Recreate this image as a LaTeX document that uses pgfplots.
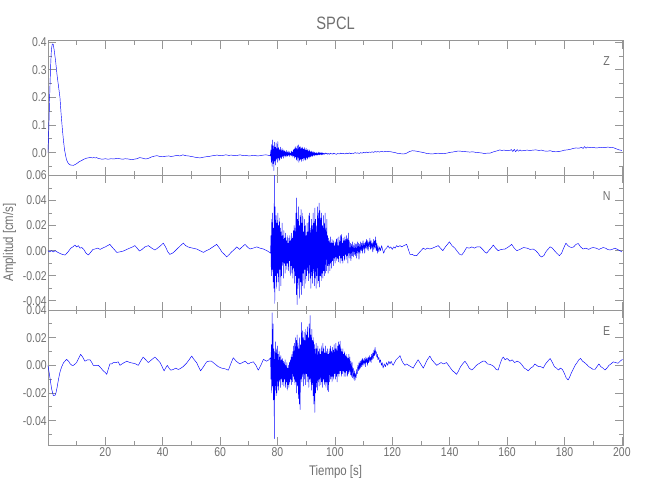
\documentclass[border=0pt]{standalone}
\usepackage{fontspec}
\setmainfont{Liberation Sans}[FakeStretch=0.82]
\usepackage{pgfplots}
\pgfplotsset{compat=1.18}
\definecolor{axgrey}{RGB}{150,150,150}
\definecolor{txtgrey}{RGB}{112,112,112}
\definecolor{trace}{RGB}{0,0,255}
\pgfplotsset{
 seis/.style={
  scale only axis, anchor=north west, width=575.4bp,
  xmin=0, xmax=200.5,
  scaled x ticks=false, scaled y ticks=false,
  axis line style={axgrey, line width=0.7bp},
  tick style={axgrey, line width=0.7bp},
  major tick length=8bp, minor tick length=4bp,
  tick align=inside,
  xtick={20,40,...,200}, minor xtick={10,30,...,190},
  tick label style={font=\fontsize{12.8}{13}\selectfont, text=txtgrey},
  yticklabel style={inner xsep=1bp, /pgf/number format/fixed, /pgf/number format/fixed zerofill, /pgf/number format/precision=2},
  xticklabel style={inner ysep=2.5bp, /pgf/number format/fixed, /pgf/number format/precision=0},
  /pgf/number format/assume math mode=true,
 },
 tr/.style={trace, line width=0.45bp, line join=round},
}
\tikzset{lab/.style={text=txtgrey, font=\fontsize{13}{13}\selectfont}}
\begin{document}
\begin{tikzpicture}
\path[use as bounding box] (0bp,0bp) rectangle (650bp,-500bp);
% ---------------- Z ----------------
\begin{axis}[seis, at={(47.9bp,-40.5bp)}, height=134.5bp,
  ymin=-0.081, ymax=0.406,
  ytick={0,0.1,0.2,0.3,0.4}, minor ytick={-0.05,0.05,0.15,0.25,0.35},
  yticklabel style={/pgf/number format/precision=1},
  xticklabels={}]
\addplot[tr] coordinates {
(0,0) (0.3,0.08) (0.6,0.2) (0.9,0.3) (1.2,0.37) (1.5,0.392) (1.7,0.394) (1.9,0.39) (2.2,0.37) (2.7,0.33) (3.2,0.28) (3.7,0.24) (4.2,0.2) (4.6,0.14) (5,0.09) (5.4,0.046) (5.8,0.01) (6.2,-0.012) (6.5,-0.026) (7,-0.037) (7.5,-0.043) (8,-0.045) (8.9,-0.046) (9.5,-0.043) (10,-0.04) (10.5,-0.036) (11,-0.032) (11.5,-0.03) (12,-0.027) (12.5,-0.024) (13,-0.022) (13.5,-0.02) (14,-0.019) (14.5,-0.018) (15,-0.018) (15.5,-0.019) (16,-0.018) (16.5,-0.019) (17,-0.018) (17.5,-0.021) (18,-0.022) (18.5,-0.023) (19,-0.024) (19.5,-0.023) (20,-0.022) (21,-0.024) (22,-0.022) (23,-0.023) (24,-0.021) (25,-0.022) (26,-0.024) (27,-0.022) (28,-0.023) (29,-0.025) (30,-0.024) (31,-0.022) (32,-0.018) (33,-0.02) (34,-0.023) (35,-0.021) (36,-0.016) (37,-0.013) (38,-0.011) (39,-0.014) (40,-0.015) (41,-0.013) (42,-0.012) (43,-0.014) (44,-0.012) (45,-0.01) (46,-0.012) (47,-0.008) (48,-0.011) (49,-0.012) (50,-0.014) (51,-0.016) (52,-0.018) (53,-0.019) (54,-0.017) (55,-0.015) (56,-0.014) (57,-0.012) (58,-0.01) (59,-0.009) (60,-0.011) (61,-0.01) (62,-0.008) (63,-0.01) (64,-0.009) (65,-0.011) (66,-0.01) (67,-0.008) (68,-0.011) (69,-0.01) (70,-0.012) (71,-0.011) (72,-0.01) (73,-0.012) (74,-0.011) (75,-0.009) (76,-0.008) (77,-0.01) (77.5,-0.012)
(77.7,0.01) (77.85,-0.035) (78,0.03) (78.15,-0.05) (78.3,0.046) (78.45,-0.04) (78.6,0.025) (78.75,-0.065) (78.9,0.038) (79.05,-0.03) (79.2,0.02) (79.35,-0.045) (79.5,0.035) (79.65,-0.025) (79.8,0.015) (79.95,-0.035) (80.1,0.04) (80.25,-0.02) (80.4,0.018) (80.55,-0.03) (80.7,0.012) (80.85,-0.025) (81,0.02) (81.15,-0.018) (81.3,0.01) (81.45,-0.022) (81.6,0.015) (81.75,-0.015) (81.9,0.008) (82.05,-0.02) (82.2,0.01) (82.35,-0.012) (82.5,0.006) (82.65,-0.016) (82.8,0.004) (82.95,-0.012) (83.1,0.008) (83.25,-0.014) (83.4,0.002) (83.55,-0.012) (83.7,0.006) (83.85,-0.01) (84,0) (84.15,-0.014) (84.3,0.004) (84.45,-0.008) (84.6,-0.002) (84.75,-0.012) (84.9,0.006) (85.05,-0.01) (85.2,0.002) (85.35,-0.016) (85.5,0.01) (85.65,-0.012) (85.8,0.012) (85.95,-0.02) (86.1,0.018) (86.25,-0.015) (86.4,0.022) (86.55,-0.025) (86.7,0.015) (86.85,-0.03) (87,0.025) (87.15,-0.02) (87.3,0.028) (87.45,-0.035) (87.6,0.02) (87.75,-0.028) (87.9,0.022) (88.05,-0.025) (88.2,0.018) (88.35,-0.032) (88.5,0.015) (88.65,-0.022) (88.8,0.02) (88.95,-0.03) (89.1,0.012) (89.25,-0.02) (89.4,0.018) (89.55,-0.025) (89.7,0.01) (89.85,-0.028) (90,0.016) (90.15,-0.018) (90.3,0.008) (90.45,-0.024) (90.6,0.012) (90.75,-0.016) (90.9,0.006) (91.05,-0.02) (91.2,0.01) (91.35,-0.014) (91.5,0.004) (91.65,-0.016) (91.8,0.006) (91.95,-0.012) (92.1,0.002) (92.25,-0.014) (92.4,0.004) (92.55,-0.01) (92.7,0) (92.85,-0.012) (93,0.002) (93.15,-0.008) (93.3,-0.002) (93.45,-0.01) (93.6,0) (93.75,-0.008) (93.9,-0.003) (94.05,-0.009) (94.2,0.002) (94.35,-0.007) (94.5,-0.001) (94.65,-0.008) (94.8,0.001) (94.95,-0.006) (95.1,-0.002) (95.25,-0.008) (95.4,0) (95.55,-0.006) (95.7,-0.001) (95.85,-0.007) (96,-0.002) (96.3,-0.006) (96.6,-0.001) (96.9,-0.005) (97.2,-0.002) (97.5,-0.006) (97.8,-0.003) (98.1,-0.006) (98.4,-0.002) (98.7,-0.005) (99,-0.003) (99.3,-0.006) (99.6,-0.002) (100,-0.004)
(100.5,-0.006) (101,-0.003) (101.5,-0.005) (102,-0.002) (102.5,-0.004) (103,-0.003) (103.5,-0.005) (104,-0.002) (104.5,-0.004) (105,-0.001) (105.5,-0.004) (106,-0.002) (106.5,-0.003) (107,0) (107.5,-0.002) (108,-0.001) (108.5,-0.003) (109,0) (109.5,-0.002) (110,0.001) (110.5,-0.001) (111,0.002) (111.5,0) (112,0.002) (112.5,0.001) (113,0.003) (113.5,0.001) (114,0.004) (114.5,0.002) (115,0.004) (115.5,0.002) (116,0.004) (117,0.003) (118,0.005) (119,0.004) (120,0.002) (121,0) (122,-0.003) (123,-0.004) (124,-0.005) (125,-0.002) (126,0.004) (127,0.007) (128,0.006) (129,0.004) (130,0.002) (131,0) (132,-0.003) (133,-0.004) (134,-0.005) (135,-0.003) (136,-0.002) (137,-0.004) (138,-0.003) (139,-0.002) (140,0.001) (141,0.002) (142,0.004) (143,0.006) (144,0.005) (145,0.004) (146,0.003) (147,0.002) (148,0.003) (149,0.001) (150,0) (151,-0.001) (152,-0.003) (153,-0.002) (154,-0.002) (155,0.002) (156,0.005) (157,0.008) (157.5,0.01) (158,0.008) (159,0.009) (160,0.007) (161,0.008) (161.5,0.011) (162,0.004) (162.5,0.012) (163,0.003) (163.5,0.011) (164,0.005) (164.5,0.01) (165,0.006) (166,0.008) (167,0.009) (168,0.008) (169,0.009) (170,0.01) (171,0.008) (172,0.009) (173,0.006) (174,0.005) (175,0.007) (176,0.004) (177,0.003) (178,0.004) (179,0.006) (180,0.009) (181,0.01) (182,0.012) (183,0.015) (184,0.017) (185,0.016) (186,0.019) (186.5,0.015) (187,0.022) (187.5,0.016) (188,0.02) (189,0.018) (190,0.019) (191,0.017) (192,0.018) (193,0.019) (194,0.018) (195,0.02) (196,0.019) (197,0.018) (198,0.014) (199,0.01) (200,0.008)
};
\node[lab] at (axis description cs:0.971,0.848) {Z};
\end{axis}
% ---------------- N ----------------
\begin{axis}[seis, at={(47.9bp,-175bp)}, height=135bp,
  ymin=-0.0473, ymax=0.0603,
  ytick={-0.04,-0.02,0,0.02,0.04,0.06}, minor ytick={-0.03,-0.01,0.01,0.03,0.05},
  xticklabels={},
  ylabel={Amplitud [cm/s]},
  ylabel style={at={(axis description cs:-0.0665,0.5)}, anchor=center, text=txtgrey, font=\fontsize{14}{14}\selectfont}]
\addplot[tr] coordinates {
(0,0) (0.6,-0.001) (1.2,0) (1.9,-0.001) (2.5,0) (3.2,-0.001) (4,-0.002) (5,-0.003) (6,-0.0035) (7,-0.001) (8,0.002) (8.7,0.003) (9.4,0.0045) (10,0.003) (10.6,0.004) (11.2,0.002) (11.8,0.0025) (12.5,0.001) (13.3,-0.002) (14.1,-0.0035) (15,-0.001) (15.7,0.001) (16.4,0.0013) (17.3,0.002) (18.2,0.001) (19,0.002) (20,0.003) (20.8,0.004) (21.6,0.005) (22.3,0.003) (23.1,0.001) (24,-0.0014) (25,-0.001) (26.3,-0.0003) (27.5,0.001) (28.5,0.002) (29.5,0.003) (30.3,0.004) (31.1,0.002) (31.9,-0.0003) (32.8,0.001) (33.8,0.003) (35,0.004) (36.2,0.002) (37.3,0.0005) (38.2,0.002) (39.3,0.004) (40.2,0.006) (41,0.003) (41.8,-0.001) (42.5,-0.003) (43.4,-0.002) (44.3,-0.0003) (45.3,0.002) (46.2,0.004) (47.2,0.006) (48,0.004) (48.8,0.003) (49.5,0.0025) (50.5,0.002) (51.8,0.0013) (53,0) (54.2,-0.0014) (55.2,0) (56.2,0.001) (57.5,0.003) (58.8,0.005) (59.8,0.002) (60.6,-0.001) (61.5,-0.003) (62.3,-0.005) (63.2,-0.003) (64,-0.001) (65,0.001) (65.8,0.003) (66.8,0.001) (67.7,0.003) (68.7,0.005) (69.5,0.003) (70.4,0.0013) (71.5,0.002) (72.8,0.003) (73.9,0.002) (75.1,0.0013) (76.3,0) (77,-0.001) (77.6,-0.002)
(77.7,0.012) (77.85,-0.02) (78,0.025) (78.15,-0.015) (78.3,0.03) (78.45,-0.025) (78.6,0.018) (78.75,-0.03) (78.9,0.06) (79.05,-0.042) (79.2,0.035) (79.35,-0.02) (79.5,0.028) (79.65,-0.03) (79.8,0.022) (79.95,-0.018) (80.1,0.03) (80.25,-0.025) (80.4,0.02) (80.55,-0.032) (80.7,0.026) (80.85,-0.015) (81,0.018) (81.15,-0.028) (81.3,0.015) (81.45,-0.02) (81.6,0.022) (81.75,-0.012) (81.9,0.012) (82.05,-0.022) (82.2,0.016) (82.35,-0.01) (82.5,0.01) (82.65,-0.018) (82.8,0.014) (82.95,-0.012) (83.1,0.008) (83.25,-0.015) (83.4,0.012) (83.55,-0.01) (83.7,0.006) (83.85,-0.016) (84,0.01) (84.15,-0.008) (84.3,0.012) (84.45,-0.02) (84.6,0.008) (84.75,-0.012) (84.9,0.014) (85.05,-0.018) (85.2,0.01) (85.35,-0.022) (85.5,0.016) (85.65,-0.014) (85.8,0.02) (85.95,-0.026) (86.1,0.018) (86.25,-0.02) (86.4,0.03) (86.55,-0.035) (86.7,0.042) (86.85,-0.043) (87,0.025) (87.15,-0.03) (87.3,0.035) (87.45,-0.022) (87.6,0.02) (87.75,-0.038) (87.9,0.028) (88.05,-0.025) (88.2,0.033) (88.35,-0.035) (88.5,0.022) (88.65,-0.028) (88.8,0.03) (88.95,-0.018) (89.1,0.015) (89.25,-0.03) (89.4,0.025) (89.55,-0.015) (89.7,0.02) (89.85,-0.026) (90,0.012) (90.15,-0.02) (90.3,0.022) (90.45,-0.016) (90.6,0.015) (90.75,-0.024) (90.9,0.028) (91.05,-0.018) (91.2,0.03) (91.35,-0.022) (91.5,0.018) (91.65,-0.03) (91.8,0.025) (91.95,-0.02) (92.1,0.02) (92.25,-0.026) (92.4,0.03) (92.55,-0.018) (92.7,0.022) (92.85,-0.028) (93,0.034) (93.15,-0.022) (93.3,0.025) (93.45,-0.03) (93.6,0.02) (93.75,-0.02) (93.9,0.035) (94.05,-0.026) (94.2,0.03) (94.35,-0.024) (94.5,0.038) (94.65,-0.029) (94.8,0.032) (94.95,-0.02) (95.1,0.026) (95.25,-0.024) (95.4,0.03) (95.55,-0.018) (95.7,0.02) (95.85,-0.022) (96,0.028) (96.15,-0.016) (96.3,0.022) (96.45,-0.02) (96.6,0.03) (96.75,-0.018) (96.9,0.018) (97.05,-0.016) (97.2,0.025) (97.35,-0.012) (97.5,0.012) (97.65,-0.018) (97.8,0.01) (97.95,-0.012) (98.1,0.008) (98.25,-0.016) (98.4,0.011) (98.55,-0.01) (98.7,0.006) (98.85,-0.014) (99,0.009) (99.15,-0.008) (99.3,0.006) (99.45,-0.012) (99.6,0.008) (99.75,-0.006) (99.9,0.004) (100.05,-0.01) (100.2,0.007) (100.35,-0.005) (100.5,0.009) (100.65,-0.008) (100.8,0.01) (100.95,-0.006) (101.1,0.004) (101.25,-0.009) (101.4,0.011) (101.55,-0.004) (101.7,0.008) (101.85,-0.01) (102,0.012) (102.15,-0.006) (102.3,0.013) (102.45,-0.008) (102.6,0.006) (102.75,-0.01) (102.9,0.01) (103.05,-0.004) (103.2,0.008) (103.35,-0.008) (103.5,0.011) (103.65,-0.003) (103.8,0.009) (103.95,-0.007) (104.1,0.012) (104.25,-0.004) (104.4,0.01) (104.55,-0.01) (104.7,0.014) (104.85,-0.002) (105,0.008) (105.2,-0.006) (105.4,0.006) (105.6,-0.008) (105.8,0.005) (106,-0.004) (106.2,0.007) (106.4,-0.005) (106.6,0.004) (106.8,-0.003) (107,0.006) (107.2,-0.004) (107.4,0.005) (107.6,-0.006) (107.8,0.007) (108,-0.002) (108.2,0.006) (108.4,-0.007) (108.6,0.005) (108.8,-0.002) (109,0.007) (109.2,0) (109.4,0.006) (109.6,-0.002) (109.8,0.008) (110,0.001) (110.2,0.006) (110.4,-0.002) (110.6,0.007) (110.8,0.002) (111,0.009) (111.2,0.001) (111.4,0.008) (111.6,0) (111.8,0.007) (112,0.003) (112.2,0.01) (112.4,0.001) (112.6,0.008) (112.8,0.002) (113,0.006) (113.2,-0.001) (113.4,0.009) (113.6,0.001) (113.8,0.008) (114,0.002) (114.2,0.011) (114.4,0) (114.6,0.006) (114.8,-0.002) (115,0.004) (115.3,-0.001) (115.6,0.003) (115.9,0) (116.3,0.004) (116.6,0.001) (117,-0.002)
(117.5,0.001) (118,0.002) (118.5,0.004) (119,0.002) (119.5,0.003) (120,0.001) (120.5,0.003) (121,0.002) (121.5,0.004) (122,0.003) (122.7,0.004) (123.3,0.003) (124,0.004) (125,0.005) (125.6,0.001) (126.2,-0.003) (127,-0.003) (127.7,-0.004) (128.5,-0.004) (129.2,-0.002) (130,0) (130.8,0.002) (131.5,0.001) (132.3,0.002) (133.1,0.0013) (134,0.002) (135,0.003) (136,0.004) (136.8,0.002) (137.6,0) (138.5,0.003) (139.2,0.005) (139.9,0.007) (140.8,0.004) (141.8,0.002) (142.8,-0.001) (143.5,-0.003) (144.2,-0.0035) (145,-0.001) (145.9,0.0025) (146.8,0.002) (147.7,0.003) (148.6,0.002) (149.5,0.003) (150.6,0.003) (151.5,0.001) (152.2,-0.001) (152.9,-0.002) (153.6,0) (154.4,0.002) (155.2,0.0045) (156,0.002) (156.9,0) (158,0.001) (159.3,0.0013) (160.5,0.003) (161.6,0.005) (162.5,0.002) (163.4,0) (164.5,0.001) (165.7,0.0025) (167,0.002) (168,0.001) (169.1,0.0013) (170,0) (170.8,-0.002) (171.4,-0.004) (172,-0.005) (172.8,-0.004) (173.5,-0.001) (174.2,0.001) (175,0.003) (175.8,0.002) (176.5,0) (177.3,-0.002) (178.2,-0.004) (179,-0.002) (179.7,0.002) (180.5,0.006) (181.2,0.004) (181.8,0.003) (182.5,0.0025) (183.2,0.003) (184,0.005) (184.8,0.0057) (185.6,0.003) (186.5,0.0013) (187.5,0.002) (188.4,0.001) (189.2,0.002) (190,0.0025) (191,0.002) (192,0.001) (193,0.002) (193.5,0.0025) (194.3,0.002) (195,0.001) (195.8,0.0005) (196.6,0.001) (197.6,0.002) (198.5,0.001) (199.3,0) (200,-0.001)
};
\node[lab] at (axis description cs:0.971,0.845) {N};
\end{axis}
% ---------------- E ----------------
\begin{axis}[seis, at={(47.9bp,-310bp)}, height=135bp,
  ymin=-0.0576, ymax=0.040,
  ytick={-0.04,-0.02,0,0.02,0.04}, minor ytick={-0.05,-0.03,-0.01,0.01,0.03},
  xlabel={Tiempo [s]},
  xlabel style={at={(axis description cs:0.5,-0.2)}, anchor=center, text=txtgrey, font=\fontsize{14}{14}\selectfont}]
\addplot[tr] coordinates {
(0,0) (0.5,-0.006) (1,-0.013) (1.3,-0.017) (1.9,-0.022) (2.4,-0.022) (2.8,-0.02) (3.2,-0.016) (3.7,-0.01) (4.2,-0.005) (4.8,-0.001) (5.5,0.002) (6.5,0.0043) (7.2,0.003) (7.8,0.001) (8.4,0) (8.9,0) (9.5,0.001) (10,0.002) (10.7,0.005) (11.4,0.008) (12.1,0.006) (12.9,0.003) (13.8,0.004) (14.7,0.004) (15.3,0.002) (15.8,0) (16.7,0) (17.6,0) (18.5,-0.002) (19.3,-0.004) (19.9,-0.005) (20.5,-0.0065) (21,-0.003) (21.6,0.001) (22.2,0.001) (22.8,0.002) (23.7,0.002) (24.5,0.0025) (25.1,0) (25.8,0.001) (26.6,0.002) (27.5,0.003) (28.6,0.002) (29.8,0.0015) (30.6,0.001) (31.5,0) (32.3,0.003) (33.2,0.006) (34.1,0.004) (35,0.002) (36.1,0.004) (37.3,0.006) (38.2,0.004) (39.1,0.002) (39.8,-0.001) (40.5,-0.004) (41,-0.002) (41.6,0) (42.2,-0.002) (42.8,-0.0035) (43.7,-0.003) (44.6,-0.002) (45.4,-0.003) (46,-0.0025) (47.1,-0.001) (48.3,0.0015) (49.2,0.004) (50.1,0.0067) (51,0.004) (51.8,0.002) (52.5,-0.001) (53.2,-0.004) (54.2,-0.001) (55.3,0.0025) (56.1,0.003) (57,0.003) (58.2,0.001) (59.4,-0.001) (60.5,-0.002) (61.7,-0.0025) (62.3,-0.003) (62.9,-0.0035) (63.7,0.001) (64.6,0.0055) (65.6,0.003) (66.9,0.001) (67.8,0.002) (68.7,0.003) (69.8,0.001) (70.7,0.002) (71.6,0.0025) (72.5,0) (73.3,-0.0035) (74.2,0) (75.1,0.0043) (76.2,0.003) (77,0.004) (77.6,0.0055)
(77.7,-0.01) (77.85,0.015) (78,-0.02) (78.15,0.038) (78.3,-0.015) (78.45,0.03) (78.6,-0.025) (78.75,0.012) (78.9,-0.053) (79.05,0.01) (79.2,-0.018) (79.35,0.017) (79.5,-0.022) (79.65,0.012) (79.8,-0.02) (79.95,0.014) (80.1,-0.015) (80.25,0.008) (80.4,-0.018) (80.55,0.01) (80.7,-0.012) (80.85,0.006) (81,-0.016) (81.15,0.007) (81.3,-0.01) (81.45,0.004) (81.6,-0.014) (81.75,0.005) (81.9,-0.012) (82.05,0.003) (82.2,-0.015) (82.35,0.002) (82.5,-0.01) (82.65,0.004) (82.8,-0.016) (82.95,0) (83.1,-0.012) (83.25,0.002) (83.4,-0.018) (83.55,-0.002) (83.7,-0.014) (83.85,0) (84,-0.016) (84.15,0.002) (84.3,-0.012) (84.45,0.004) (84.6,-0.01) (84.75,0.006) (84.9,-0.014) (85.05,0.008) (85.2,-0.012) (85.35,0.01) (85.5,-0.008) (85.65,0.014) (85.8,-0.01) (85.95,0.016) (86.1,-0.014) (86.25,0.02) (86.4,-0.012) (86.55,0.018) (86.7,-0.02) (86.85,0.022) (87,-0.015) (87.15,0.016) (87.3,-0.024) (87.45,0.012) (87.6,-0.028) (87.75,0.02) (87.9,-0.032) (88.05,0.015) (88.2,-0.01) (88.35,0.031) (88.5,-0.012) (88.65,0.025) (88.8,-0.008) (88.95,0.02) (89.1,-0.015) (89.25,0.024) (89.4,-0.01) (89.55,0.018) (89.7,-0.014) (89.85,0.026) (90,-0.006) (90.15,0.022) (90.3,-0.012) (90.45,0.028) (90.6,-0.008) (90.75,0.02) (90.9,-0.016) (91.05,0.03) (91.2,-0.01) (91.35,0.036) (91.5,-0.012) (91.65,0.022) (91.8,-0.018) (91.95,0.026) (92.1,-0.014) (92.25,0.018) (92.4,-0.022) (92.55,0.02) (92.7,-0.028) (92.85,0.015) (93,-0.034) (93.15,0.012) (93.3,-0.02) (93.45,0.016) (93.6,-0.016) (93.75,0.012) (93.9,-0.018) (94.05,0.014) (94.2,-0.012) (94.35,0.01) (94.5,-0.015) (94.65,0.012) (94.8,-0.01) (94.95,0.008) (95.1,-0.014) (95.25,0.014) (95.4,-0.012) (95.55,0.01) (95.7,-0.016) (95.85,0.016) (96,-0.01) (96.15,0.012) (96.3,-0.014) (96.45,0.009) (96.6,-0.012) (96.75,0.014) (96.9,-0.016) (97.05,0.01) (97.2,-0.012) (97.35,0.012) (97.5,-0.018) (97.65,0.008) (97.8,-0.019) (97.95,0.01) (98.1,-0.012) (98.25,0.012) (98.4,-0.01) (98.55,0.014) (98.7,-0.008) (98.85,0.01) (99,-0.012) (99.15,0.013) (99.3,-0.008) (99.45,0.011) (99.6,-0.01) (99.75,0.015) (99.9,-0.006) (100.05,0.012) (100.2,-0.01) (100.35,0.016) (100.5,-0.008) (100.65,0.012) (100.8,-0.012) (100.95,0.014) (101.1,-0.006) (101.25,0.017) (101.4,-0.008) (101.55,0.015) (101.7,-0.006) (101.85,0.0175) (102,-0.004) (102.15,0.012) (102.3,-0.008) (102.45,0.01) (102.6,-0.006) (102.75,0.012) (102.9,-0.004) (103.05,0.008) (103.2,-0.008) (103.35,0.01) (103.5,-0.005) (103.65,0.007) (103.8,-0.008) (103.95,0.008) (104.1,-0.004) (104.25,0.006) (104.4,-0.008) (104.55,0.005) (104.7,-0.006) (104.85,0.008) (105,-0.005) (105.2,0.006) (105.4,-0.007) (105.6,0.003) (105.8,-0.008) (106,0.002) (106.2,-0.009) (106.4,-0.002) (106.6,-0.01) (106.8,-0.004) (107,-0.011) (107.2,-0.006) (107.4,-0.009) (107.6,-0.003) (107.8,-0.006) (108,0) (108.2,-0.004) (108.4,0.002) (108.6,-0.003) (108.8,0.003) (109,-0.002) (109.2,0.004) (109.4,-0.001) (109.6,0.005) (109.8,0) (110,0.004) (110.2,0.001) (110.4,0.005) (110.6,-0.001) (110.8,0.006) (111,0.002) (111.2,0.005) (111.4,0) (111.6,0.006) (111.8,0.002) (112,0.007) (112.2,0.003) (112.4,0.006) (112.6,0.002) (112.8,0.008) (113,0.004) (113.2,0.009) (113.4,0.005) (113.6,0.011) (113.8,0.007) (114,0.013) (114.2,0.008) (114.4,0.01) (114.6,0.006) (114.8,0.008) (115,0.004) (115.3,0.006) (115.6,0.002) (115.9,0.004) (116.2,0) (116.5,0.002) (116.8,-0.002) (117.2,0.001) (117.6,-0.001) (118,0.002) (118.4,0) (118.8,0.003) (119.2,0.001) (119.6,0.003) (120,0.001)
(120.3,0) (120.8,0.002) (121.3,0.004) (121.8,0.005) (122.3,0.006) (122.7,0.007) (123.2,0.004) (123.7,0.002) (124.4,0) (125,0.001) (125.7,0) (126.5,-0.001) (127.3,-0.002) (127.8,0) (128.4,0.002) (129,0.004) (129.6,0.002) (130.2,0) (130.8,-0.002) (131.5,0.001) (132.2,0.004) (133.1,0.0067) (133.8,0.004) (134.6,0.002) (135.5,0) (136.2,0.001) (137,0.002) (137.9,0.001) (138.9,0.002) (139.6,0) (140.3,-0.002) (141,-0.004) (141.7,-0.005) (142.4,-0.0065) (143.1,-0.004) (143.8,-0.001) (144.5,0.001) (145.3,0.003) (146,0.001) (146.8,-0.002) (147.7,-0.0034) (148.5,-0.002) (149.3,0) (150,0.001) (150.8,0.002) (151.5,0.003) (152.3,0.003) (153.2,0.001) (154,0.0007) (154.8,0) (155.5,-0.001) (156.2,-0.003) (156.9,-0.0034) (157.4,0) (157.9,0.003) (158.3,0.005) (158.7,0.006) (159.3,0.004) (160,0.005) (161,0.003) (161.8,0.004) (162.6,0.002) (163.5,0.003) (164.5,0.002) (165.3,0) (166,-0.002) (166.8,-0.003) (167.4,-0.004) (168.2,-0.002) (169,-0.001) (169.7,0.001) (170.3,0) (171,-0.001) (171.8,-0.001) (172.6,-0.002) (173.4,0.001) (174.2,0.003) (175,0.005) (175.8,0.002) (176.5,-0.001) (177.2,-0.002) (177.9,-0.0034) (178.6,-0.002) (179.3,-0.003) (180,-0.006) (180.6,-0.009) (181.3,-0.0106) (181.9,-0.008) (182.5,-0.005) (183,-0.003) (183.7,0) (184.4,0.002) (185,0.004) (185.6,0.005) (186.3,0.003) (187,0.002) (187.7,0.0007) (188.5,-0.001) (189.3,-0.002) (190,-0.003) (190.6,-0.003) (191.3,-0.001) (192,0.001) (192.7,-0.001) (193.4,-0.002) (194.1,-0.0034) (194.8,-0.002) (195.5,0) (196.2,0.001) (197,0.0025) (197.8,0.002) (198.7,0.0015) (199.4,0.003) (200.2,0.0043)
};
\node[lab] at (axis description cs:0.971,0.845) {E};
\end{axis}
\node[text=txtgrey, font=\fontsize{18}{18}\selectfont] at (335.6bp,-23bp) {SPCL};
\end{tikzpicture}
\end{document}
